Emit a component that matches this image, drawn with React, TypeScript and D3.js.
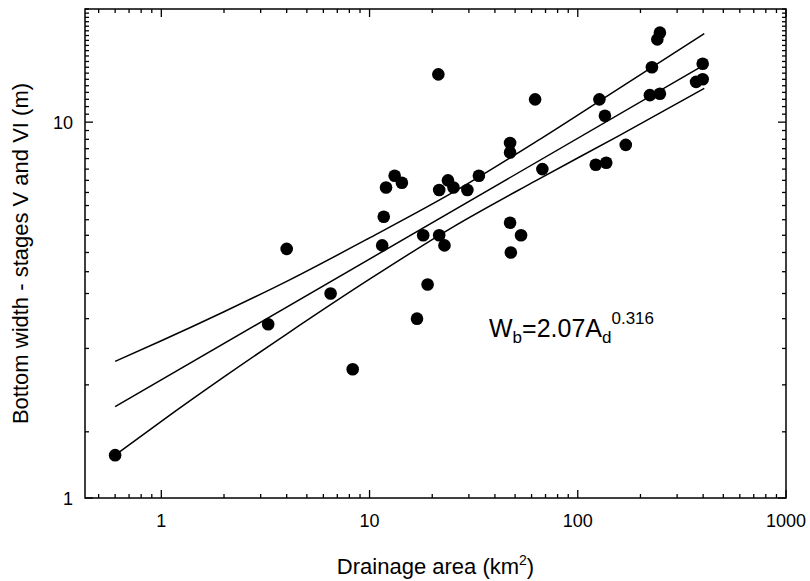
import React from 'react';
import * as d3 from 'd3';

// Drainage area (km²) and bottom width (m) of each channel
const drainageArea = [
  0.6, 3.26, 4.0, 6.5, 8.3, 11.5, 11.7, 12.0, 13.2, 14.3,
  16.9, 19.0, 18.1, 21.4, 21.6, 22.9, 21.6, 23.8, 25.3, 29.5,
  33.5, 47.3, 47.3, 47.3, 47.7, 53.4, 62.4, 67.6, 122, 137,
  127, 135, 170, 222, 248, 227, 241, 248, 370, 398, 398,
];
const bottomWidth = [
  1.3, 2.9, 4.6, 3.5, 2.2, 4.7, 5.6, 6.7, 7.2, 6.9,
  3.0, 3.7, 5.0, 13.4, 5.0, 4.7, 6.6, 7.0, 6.7, 6.6,
  7.2, 8.8, 8.3, 5.4, 4.5, 5.0, 11.5, 7.5, 7.7, 7.8,
  11.5, 10.4, 8.7, 11.8, 11.9, 14.0, 16.6, 17.3, 12.8, 13.0, 14.3,
];

// Regression line end points
const fitA = [0.6, 405];
const fitW = [1.75, 14.2];

// Confidence bands
const bandA = [0.6, 1, 2, 4, 10, 25, 63, 158, 405];
const upperW = [2.31, 2.62, 3.13, 3.77, 4.92, 6.49, 8.87, 12.3, 17.2];
const lowerW = [1.3, 1.6, 2.1, 2.73, 3.82, 5.25, 6.99, 9.21, 12.3];

const xTickLabels = [1, 10, 100, 1000];
const yTickLabels = [1, 10];

const FONT = "'Liberation Sans', Arial, Helvetica, sans-serif";

export default function App() {
  const left = 85, right = 786, top = 9, bottom = 498;
  const x = d3.scaleLog().domain([0.43, 1000]).range([left, right]);
  const y = d3.scaleLog().domain([1, 20]).range([bottom, top]);

  const xMinor = x.ticks(40).filter((v) => v >= 0.43 && v <= 1000);
  const yMinor = y.ticks(40).filter((v) => v >= 1 && v <= 20);
  const isMajor = (v: number) => Math.abs(Math.log10(v) - Math.round(Math.log10(v))) < 1e-9;

  const line = d3
    .line<[number, number]>()
    .x((d) => x(d[0]))
    .y((d) => y(d[1]))
    .curve(d3.curveMonotoneX);

  const fitPath = line(fitA.map((a, i) => [a, fitW[i]] as [number, number])) || '';
  const upPath = line(bandA.map((a, i) => [a, upperW[i]] as [number, number])) || '';
  const loPath = line(bandA.map((a, i) => [a, lowerW[i]] as [number, number])) || '';

  const sw = 1.5;

  return (
    <svg
      width={810}
      height={581}
      style={{ position: 'absolute', left: 0, top: 0, background: '#fff' }}
      fontFamily={FONT}
    >
      <rect x={0} y={0} width={810} height={581} fill="#fff" />
      {/* lines */}
      <path d={upPath} fill="none" stroke="#000" strokeWidth={sw} />
      <path d={fitPath} fill="none" stroke="#000" strokeWidth={sw} />
      <path d={loPath} fill="none" stroke="#000" strokeWidth={sw} />
      {/* points */}
      {drainageArea.map((a, i) => (
        <circle key={i} cx={x(a)} cy={y(bottomWidth[i])} r={6.3} fill="#000" />
      ))}
      {/* frame */}
      <rect x={left} y={top} width={right - left} height={bottom - top} fill="none" stroke="#000" strokeWidth={1.5} />
      {/* x ticks */}
      {xMinor.map((v, i) => {
        const L = isMajor(v) ? 8 : 4;
        const px = x(v);
        return (
          <g key={'xt' + i}>
            <line x1={px} x2={px} y1={bottom} y2={bottom - L} stroke="#000" strokeWidth={1.3} />
            <line x1={px} x2={px} y1={top} y2={top + L} stroke="#000" strokeWidth={1.3} />
          </g>
        );
      })}
      {yMinor.map((v, i) => {
        const L = isMajor(v) ? 8 : 4;
        const py = y(v);
        return (
          <g key={'yt' + i}>
            <line x1={left} x2={left + L} y1={py} y2={py} stroke="#000" strokeWidth={1.3} />
            <line x1={right} x2={right - L} y1={py} y2={py} stroke="#000" strokeWidth={1.3} />
          </g>
        );
      })}
      {/* tick labels */}
      {xTickLabels.map((v) => (
        <text key={'xl' + v} x={x(v)} y={527} textAnchor="middle" fontSize={18} fill="#000">
          {v}
        </text>
      ))}
      {yTickLabels.map((v) => (
        <text key={'yl' + v} x={73} y={y(v) + 6.5} textAnchor="end" fontSize={18} fill="#000">
          {v}
        </text>
      ))}
      {/* axis titles */}
      <text x={(left + right) / 2} y={574} textAnchor="middle" fontSize={22} fill="#000">
        Drainage area (km
        <tspan fontSize={14} dy={-9}>2</tspan>
        <tspan dy={9}>)</tspan>
      </text>
      <text
        transform={`translate(28, ${(top + bottom) / 2}) rotate(-90)`}
        textAnchor="middle"
        fontSize={22}
        fill="#000"
      >
        Bottom width - stages V and VI (m)
      </text>
      {/* equation */}
      <text x={489} y={337} fontSize={25} fill="#000">
        W
        <tspan fontSize={17} dy={6}>b</tspan>
        <tspan dy={-6}>=2.07A</tspan>
        <tspan fontSize={17} dy={6}>d</tspan>
        <tspan fontSize={17} dy={-19}>0.316</tspan>
      </text>
    </svg>
  );
}
